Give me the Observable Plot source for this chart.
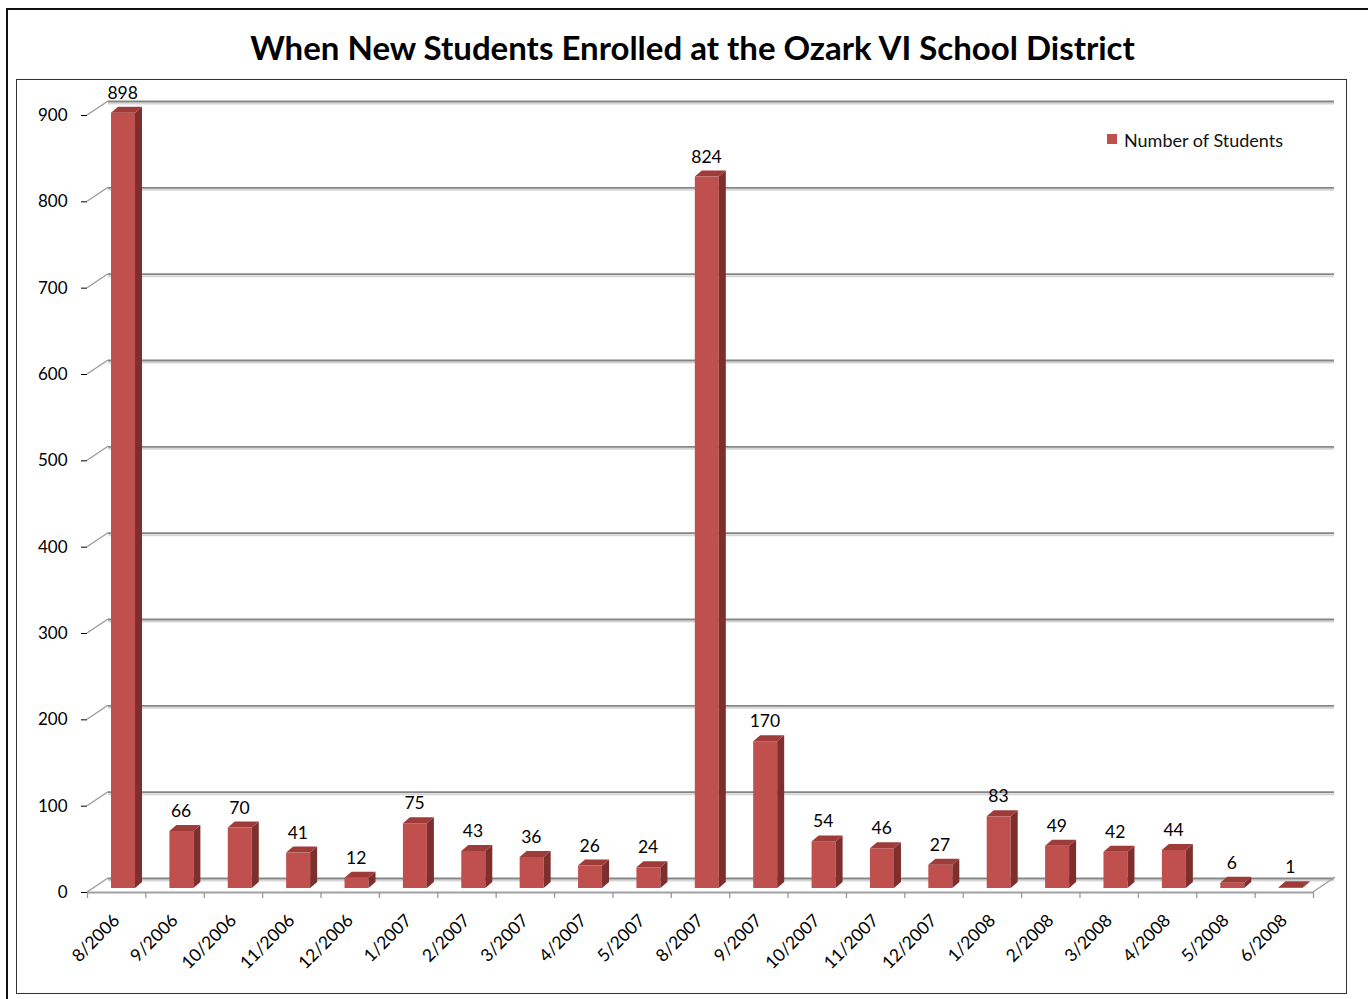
<!DOCTYPE html>
<html><head><meta charset="utf-8">
<script src="https://cdn.jsdelivr.net/npm/d3@7"></script>
<script src="https://cdn.jsdelivr.net/npm/@observablehq/plot@0.6"></script>
<style>
html,body{margin:0;padding:0;background:#fff;width:1368px;height:999px;overflow:hidden;position:relative;}
#chart{position:absolute;left:0;top:0;}
#outer{position:absolute;left:6px;top:8px;width:1420px;height:1100px;border:2px solid #111;box-sizing:border-box;}
#inner{position:absolute;left:16px;top:79px;width:1331px;height:915px;border:1.5px solid #333;box-sizing:border-box;}
#title{position:absolute;left:0;width:1385px;top:29px;line-height:36px;text-align:center;font-family:Lato,sans-serif;font-weight:bold;font-size:33px;color:#000;}
#legend{position:absolute;left:1107px;top:129px;height:22px;font-family:Lato,sans-serif;font-size:18px;line-height:22px;color:#111;white-space:nowrap;}
#legend .sw{position:absolute;left:0;top:5px;width:10px;height:10px;background:#c0504d;}
#legend .lb{position:absolute;left:17px;top:0;}
#chart g[aria-label="x-axis tick label"]{font-size:17.5px;}
</style>
</head><body>
<div id="chart"></div>
<div id="outer"></div>
<div id="inner"></div>
<div id="title">When New Students Enrolled at the Ozark VI School District</div>
<div id="legend"><span class="sw"></span><span class="lb">Number of Students</span></div>
<script>
const months = ["8/2006","9/2006","10/2006","11/2006","12/2006","1/2007","2/2007","3/2007","4/2007","5/2007","8/2007","9/2007","10/2007","11/2007","12/2007","1/2008","2/2008","3/2008","4/2008","5/2008","6/2008"];
const students = [898,66,70,41,12,75,43,36,26,24,824,170,54,46,27,83,49,42,44,6,1];
const yTicks = [0,100,200,300,400,500,600,700,800,900];
const seriesName = "Number of Students";

const rows = months.map((m, i) => ({month: m, n: students[i]}));

const W = 1368, H = 999;
const ML = 87, MR = 55, MT = 115, MB = 107;
const bw = (W - ML - MR) / months.length;
const DX = 21, DY = -14;   // wall depth
const BX = 7, BY = -6;     // bar depth
const BAR_OFF = 24, BAR_W = 24, BAR_LIFT = -4;

const chart = Plot.plot({
  width: W, height: H,
  marginLeft: ML, marginRight: MR, marginTop: MT, marginBottom: MB,
  style: {fontFamily: "Lato, sans-serif", fontSize: "17px", background: "transparent", color: "#000", overflow: "visible"},
  x: {type: "band", domain: months, padding: 0, round: false, label: null, tickRotate: -45, tickSize: 0, tickPadding: 25},
  y: {domain: [0, 900], ticks: yTicks, label: null, tickSize: 6, tickPadding: 14},
  marks: [
    // back wall gridlines (with light shadow)
    Plot.ruleY(yTicks, {dx: DX, dy: DY + 2, stroke: "#d6d6d6", strokeWidth: 2}),
    Plot.ruleY(yTicks, {dx: DX, dy: DY, stroke: "#868686", strokeWidth: 1.8}),
    // left wall diagonals
    Plot.ruleY(yTicks, {render: (index, scales, values, dims) => {
      const g = d3.create("svg:g").attr("stroke", "#9a9a9a").attr("stroke-width", 1.3).attr("fill", "none");
      const x0 = dims.marginLeft;
      for (const i of index) {
        const y = values.y[i];
        g.append("line").attr("x1", x0).attr("y1", y).attr("x2", x0 + DX).attr("y2", y + DY);
      }
      return g.node();
    }}),
    // floor front edge + right diagonal
    Plot.ruleY([0], {stroke: "#a0a0a0", strokeWidth: 2}),
    Plot.ruleY([0], {render: (index, scales, values, dims) => {
      const g = d3.create("svg:g").attr("stroke", "#a0a0a0").attr("stroke-width", 1.5).attr("fill", "none");
      const x1 = dims.width - dims.marginRight;
      for (const i of index) {
        const y = values.y[i];
        g.append("line").attr("x1", x1).attr("y1", y).attr("x2", x1 + DX + 1).attr("y2", y + DY - 1);
      }
      return g.node();
    }}),
    // category boundary ticks
    Plot.ruleX(months, {dx: -bw / 2, y1: 0, y2: -7, stroke: "#9a9a9a", strokeWidth: 1.3}),
    Plot.ruleX([months[months.length - 1]], {dx: bw / 2, y1: 0, y2: -7, stroke: "#9a9a9a", strokeWidth: 1.3}),
    // bar front faces
    Plot.barY(rows, {x: "month", y: "n", fill: "#c0504d", insetLeft: BAR_OFF, insetRight: bw - BAR_OFF - BAR_W, dy: BAR_LIFT}),
    // bar side and top faces
    Plot.barY(rows, {x: "month", y: "n", render: (index, scales, values) => {
      const g = d3.create("svg:g");
      for (const i of index) {
        const xl = values.x[i] + BAR_OFF, xr = xl + BAR_W;
        const yb = Math.max(values.y1[i], values.y2[i]) + BAR_LIFT;
        const yt = Math.min(values.y1[i], values.y2[i]) + BAR_LIFT;
        g.append("polygon").attr("fill", "#7e2e2c")
          .attr("points", [[xr, yb], [xr + BX, yb + BY], [xr + BX, yt + BY], [xr, yt]].join(" "));
        g.append("polygon").attr("fill", "#9d3c39")
          .attr("points", [[xl, yt], [xl + BX, yt + BY], [xr + BX, yt + BY], [xr, yt]].join(" "));
      }
      return g.node();
    }}),
    // data labels
    Plot.text(rows, {x: "month", y: "n", text: d => String(d.n), dx: 6, dy: -24, fontSize: 17.5, fill: "#000"})
  ]
});
document.getElementById("chart").appendChild(chart);
</script>
</body></html>
